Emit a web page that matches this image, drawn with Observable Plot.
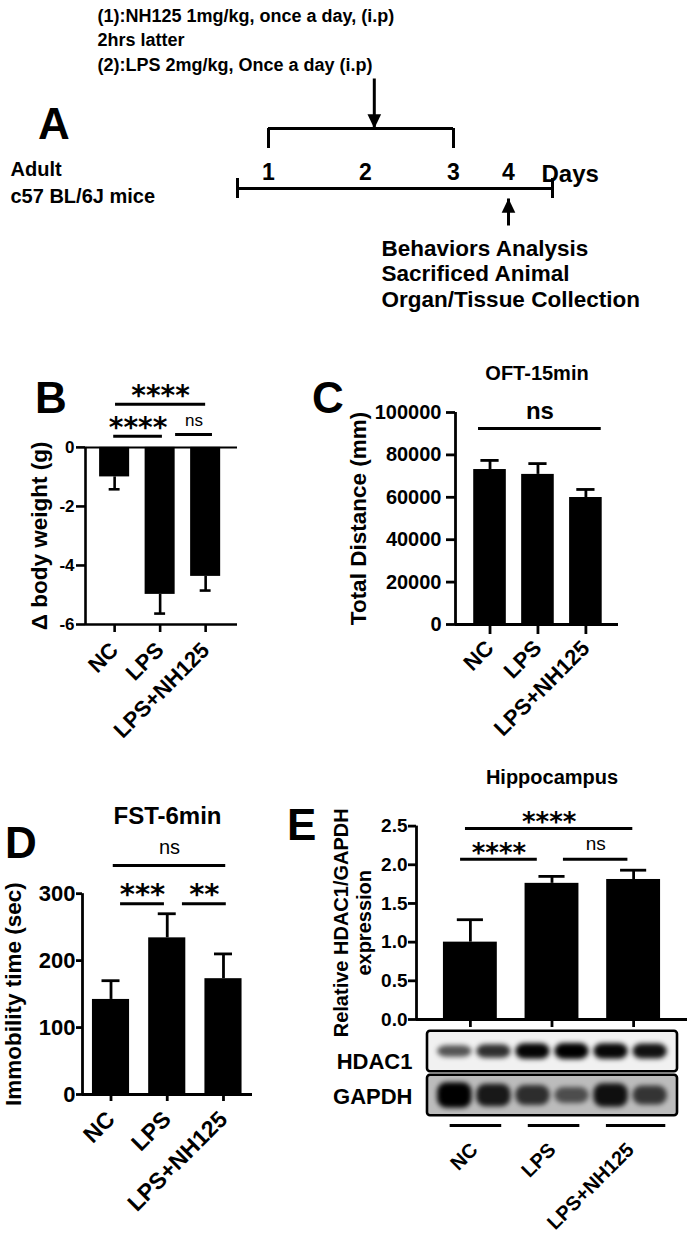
<!DOCTYPE html>
<html>
<head>
<meta charset="utf-8">
<script src="https://cdn.jsdelivr.net/npm/d3@7"></script>
<script src="https://cdn.jsdelivr.net/npm/@observablehq/plot@0.6"></script>
<style>
  body { margin: 0; background: #fff; }
  #fig { position: relative; width: 688px; height: 1241px; overflow: hidden; background: #fff;
         font-family: "Liberation Sans", Arial, Helvetica, sans-serif; font-weight: bold; color: #000; }
  .panel { position: absolute; }
  .letter { position: absolute; font-size: 44px; line-height: 1; font-weight: bold; }
</style>
</head>
<body>
<div id="fig"></div>
<script>
// ---------------- data ----------------
const groups = ["NC", "LPS", "LPS+NH125"];

const weightChange = [-1.0, -4.98, -4.37];
const weightSem = [0.42, 0.65, 0.48];
const weightTicks = [0, -2, -4, -6];

const distance = [73100, 70800, 59900];
const distanceSem = [4300, 5100, 3800];
const distanceTicks = [0, 20000, 40000, 60000, 80000, 100000];

const immobility = [142, 234, 173];
const immobilitySem = [28, 36, 37];
const immobilityTicks = [0, 100, 200, 300];

const hdac1Ratio = [1.0, 1.76, 1.81];
const hdac1Sem = [0.29, 0.09, 0.12];
const hdac1Ticks = [0, 0.5, 1.0, 1.5, 2.0, 2.5];

// significance brackets (group index span, level in data units)
const bBrackets = [
  {from: 0.02, to: 2.0, level: 1.46, label: "****"},
  {from: -0.02, to: 1.05, level: 0.38, label: "****"},
  {from: 1.34, to: 2.15, level: 0.44, label: "ns"}
];
const cBrackets = [
  {from: -0.24, to: 2.32, level: 92500, label: "ns"}
];
const dBrackets = [
  {from: 0.04, to: 2.04, level: 342, label: "ns"},
  {from: 0.17, to: 0.95, level: 285, label: "***"},
  {from: 1.27, to: 2.05, level: 285, label: "**"}
];
const eBrackets = [
  {from: -0.06, to: 1.99, level: 2.47, label: "****"},
  {from: -0.12, to: 0.82, level: 2.07, label: "****"},
  {from: 1.14, to: 1.93, level: 2.07, label: "ns"}
];

// western blot: 6 lanes (2 per group), relative band signal
const blotLaneGroups = [0, 0, 1, 1, 2, 2];
const hdac1Band = [0.5, 0.72, 0.98, 1.0, 0.96, 0.9];
const gapdhBand = [1.0, 0.82, 0.66, 0.42, 0.88, 0.6];
const proteins = ["HDAC1", "GAPDH"];

// schematic (panel A)
const notes = ["(1):NH125 1mg/kg, once a day, (i.p)", "2hrs latter", "(2):LPS 2mg/kg, Once a day (i.p)"];
const cohort = ["Adult", "c57 BL/6J mice"];
const readouts = ["Behaviors Analysis", "Sacrificed Animal", "Organ/Tissue Collection"];
const days = [1, 2, 3, 4];
const treatmentDays = [1, 3];
const timelineSpan = [0, 5];
const doseArrowDay = 2.1;
const readoutDay = 4;

// ---------------- helpers ----------------
const FONT = '"Liberation Sans", Arial, Helvetica, sans-serif';
const STAR_FONT = '"DejaVu Sans", "Liberation Sans", sans-serif';
const SVG_STYLE = `background:none;overflow:visible;font-family:${FONT};font-weight:bold;color:#000;`;
const fig = document.getElementById("fig");

function place(node, left, top) {
  const d = document.createElement("div");
  d.className = "panel";
  d.style.left = left + "px";
  d.style.top = top + "px";
  d.appendChild(node);
  fig.appendChild(d);
  return d;
}
function letter(t, left, top) {
  const d = document.createElement("div");
  d.className = "letter";
  d.textContent = t;
  d.style.left = left + "px";
  d.style.top = top + "px";
  fig.appendChild(d);
}

function barPanel(c) {
  const rows = groups.map((g, i) => ({i, g, v: c.values[i], e: c.errors[i]}));
  const tip = d => d.v + (d.v < 0 ? -1 : 1) * d.e;
  const [xa] = c.xDomain;
  const [lo, hi] = c.axisExtent;
  const stars = c.brackets.filter(d => d.label.includes("*"));
  const ns = c.brackets.filter(d => !d.label.includes("*"));
  const mid = d => (d.from + d.to) / 2;
  const marks = [
    Plot.rect(rows, {x1: d => d.i - c.barHalf, x2: d => d.i + c.barHalf, y1: 0, y2: "v", fill: "black"}),
    Plot.ruleX(rows, {x: "i", y1: "v", y2: tip, strokeWidth: c.lw}),
    Plot.ruleY(rows, {y: tip, x1: d => d.i - c.capHalf, x2: d => d.i + c.capHalf, strokeWidth: c.lw}),
    Plot.ruleX([xa], {y1: lo, y2: hi, strokeWidth: c.lw}),
    Plot.ruleY([lo], {strokeWidth: c.lw}),
    Plot.axisY({ticks: c.ticks, tickFormat: c.tickFormat, tickSize: c.yTickSize, tickPadding: c.yTickPad,
      fontSize: c.yFont, fontWeight: "bold", strokeWidth: c.lw, label: null}),
    Plot.axisX({ticks: [0, 1, 2], tickFormat: c.xLabels ? (i => groups[i]) : (() => ""),
      tickSize: c.xTickSize, tickPadding: c.xTickPad, tickRotate: -45,
      fontSize: c.xFont, fontWeight: "bold", strokeWidth: c.lw, label: null}),
    Plot.ruleY(c.brackets, {y: "level", x1: "from", x2: "to", strokeWidth: 3}),
    Plot.text(stars, {x: mid, y: "level", text: "label", fontFamily: STAR_FONT, fontSize: c.starFont,
      fontWeight: "bold", dy: c.starDy}),
    Plot.text(ns, {x: mid, y: "level", text: "label", fontSize: c.nsFont, fontWeight: c.nsWeight, dy: c.nsDy}),
    Plot.text([c.ylabel], {x: xa, y: (lo + hi) / 2, rotate: -90, dx: c.ylabelDx, lineAnchor: "middle",
      fontSize: c.ylabelFont, lineHeight: c.ylabelLH || 1, fontWeight: "bold"})
  ];
  if (c.zeroLine) marks.push(Plot.ruleY([0], {strokeWidth: 2}));
  if (c.title) marks.push(Plot.text([c.title], {frameAnchor: "top", lineAnchor: "middle", dy: c.titleDy,
    fontSize: c.titleFont, fontWeight: "bold"}));
  const [mt, mr, mb, ml] = c.margins;
  return Plot.plot({
    width: c.width, height: c.height,
    marginTop: mt, marginRight: mr, marginBottom: mb, marginLeft: ml,
    x: {type: "linear", domain: c.xDomain},
    y: {type: "linear", domain: c.yDomain},
    style: SVG_STYLE,
    marks
  });
}

// ---------------- panel A (schematic) ----------------
const aLevels = ["dosing", "bracket", "bracketFoot", "dayNumber", "tickTop", "timeline", "tickBottom", "readout"];
const lv = n => aLevels.indexOf(n);
const headDown = {draw(ctx, size) { const w = Math.sqrt(size) * 0.55, h = w * 2.1;
  ctx.moveTo(-w, -h); ctx.lineTo(w, -h); ctx.lineTo(0, 0); ctx.closePath(); }};
const headUp = {draw(ctx, size) { const w = Math.sqrt(size) * 0.55, h = w * 2.1;
  ctx.moveTo(-w, h); ctx.lineTo(w, h); ctx.lineTo(0, 0); ctx.closePath(); }};

const panelA = Plot.plot({
  width: 688, height: 320, margin: 0,
  x: {type: "linear", domain: [0, 1, 2, 3, 4, 5], range: [237, 268, 365, 453, 508, 552], axis: null},
  y: {type: "linear", domain: aLevels.map((_, i) => i), range: [78, 128, 148, 172, 178, 188, 198, 225], axis: null},
  style: SVG_STYLE,
  marks: [
    Plot.text([notes.join("\n")], {frameAnchor: "top-left", textAnchor: "start", lineAnchor: "top",
      dx: 97, dy: 4, fontSize: 18, lineHeight: 1.36, fontWeight: "bold"}),
    Plot.link([doseArrowDay], {x1: d => d, x2: d => d, y1: lv("dosing"), y2: lv("bracket"), strokeWidth: 3, insetEnd: 6}),
    Plot.dot([doseArrowDay], {x: d => d, y: lv("bracket"), symbol: headDown, r: 7, fill: "black", stroke: null}),
    Plot.ruleY([lv("bracket")], {x1: treatmentDays[0], x2: treatmentDays[1], strokeWidth: 3}),
    Plot.ruleX(treatmentDays, {y1: lv("bracket"), y2: lv("bracketFoot"), strokeWidth: 3}),
    Plot.text(days, {x: d => d, y: lv("dayNumber"), text: d => String(d), fontSize: 23, fontWeight: "bold"}),
    Plot.text(["Days"], {x: timelineSpan[1], y: lv("dayNumber"), textAnchor: "start", dx: -11, dy: 2, fontSize: 24, fontWeight: "bold"}),
    Plot.ruleY([lv("timeline")], {x1: timelineSpan[0], x2: timelineSpan[1], strokeWidth: 3}),
    Plot.ruleX(timelineSpan, {y1: lv("tickTop"), y2: lv("tickBottom"), strokeWidth: 3}),
    Plot.link([readoutDay], {x1: d => d, x2: d => d, y1: lv("readout"), y2: lv("tickBottom"), strokeWidth: 3}),
    Plot.dot([readoutDay], {x: d => d, y: lv("tickBottom"), symbol: headUp, r: 7, fill: "black", stroke: null}),
    Plot.text([cohort.join("\n")], {frameAnchor: "left", y: lv("timeline"), textAnchor: "start", lineAnchor: "middle",
      dx: 10, dy: -8, fontSize: 20, lineHeight: 1.35, fontWeight: "bold"}),
    Plot.text([readouts.join("\n")], {x: readoutDay, y: lv("readout"), textAnchor: "start", lineAnchor: "top",
      dx: -127, dy: 12, fontSize: 22.5, lineHeight: 1.14, fontWeight: "bold"})
  ]
});
place(panelA, 0, 0);

// ---------------- panel B ----------------
place(barPanel({
  values: weightChange, errors: weightSem, ticks: weightTicks, tickFormat: d => String(d),
  xDomain: [-0.64, 2.70], yDomain: [-6, 2.3], axisExtent: [-6, 0], zeroLine: true,
  barHalf: 0.33, capHalf: 0.12, lw: 2.6, brackets: bBrackets,
  starFont: 28, starDy: -8, nsFont: 17, nsWeight: "normal", nsDy: -14,
  ylabel: "Δ body weight (g)", ylabelDx: -46, ylabelFont: 22.5,
  yFont: 17, yTickSize: 9, yTickPad: 2, xFont: 22, xTickSize: 8, xTickPad: 14, xLabels: true,
  width: 260, height: 420, margins: [39, 23, 136, 85]
}), 0, 340);

// ---------------- panel C ----------------
place(barPanel({
  values: distance, errors: distanceSem, ticks: distanceTicks, tickFormat: d => String(d),
  xDomain: [-0.72, 2.68], yDomain: [0, 100000], axisExtent: [0, 100000],
  barHalf: 0.34, capHalf: 0.19, lw: 2.8, brackets: cBrackets,
  starFont: 28, starDy: -8, nsFont: 24, nsWeight: "bold", nsDy: -17,
  ylabel: "Total Distance (mm)", ylabelDx: -97, ylabelFont: 22.5,
  yFont: 20, yTickSize: 9, yTickPad: 5, xFont: 22, xTickSize: 10, xTickPad: 10, xLabels: true,
  title: "OFT-15min", titleDy: -39, titleFont: 20,
  width: 300, height: 420, margins: [72, 12, 136, 125]
}), 330, 340);

// ---------------- panel D ----------------
place(barPanel({
  values: immobility, errors: immobilitySem, ticks: immobilityTicks, tickFormat: d => String(d),
  xDomain: [-0.507, 2.516], yDomain: [0, 360], axisExtent: [0, 300],
  barHalf: 0.33, capHalf: 0.16, lw: 2.8, brackets: dBrackets,
  starFont: 29, starDy: -9, nsFont: 20, nsWeight: "normal", nsDy: -18,
  ylabel: "Immobility time (sec)", ylabelDx: -69, ylabelFont: 22.5,
  yFont: 22, yTickSize: 6, yTickPad: 1, xFont: 23, xTickSize: 7, xTickPad: 14, xLabels: true,
  title: "FST-6min", titleDy: -37, titleFont: 24,
  width: 270, height: 461, margins: [73, 18, 147, 82]
}), 0, 780);

// ---------------- panel E ----------------
place(barPanel({
  values: hdac1Ratio, errors: hdac1Sem, ticks: hdac1Ticks, tickFormat: d3.format(".1f"),
  xDomain: [-0.66, 2.66], yDomain: [0, 2.65], axisExtent: [0, 2.5],
  barHalf: 0.33, capHalf: 0.16, lw: 2.8, brackets: eBrackets,
  starFont: 26, starDy: -6, nsFont: 19, nsWeight: "normal", nsDy: -15,
  ylabel: "Relative HDAC1/GAPDH\nexpression", ylabelDx: -64.5, ylabelFont: 20, ylabelLH: 1.15,
  yFont: 19, yTickSize: 8, yTickPad: 1, xFont: 21, xTickSize: 8, xTickPad: 15, xLabels: false,
  title: "Hippocampus", titleDy: -37, titleFont: 20,
  width: 388, height: 290, margins: [74, 1, 11, 116]
}), 300, 740);

// ---------------- panel E blot ----------------
const laneDomain = [-0.7, 5.7];
const bandRows = [
  ...hdac1Band.map((s, k) => ({row: 0, k, s, t: 0.16 + 0.2 * s})),
  ...gapdhBand.map((s, k) => ({row: 1, k, s, t: 0.2 + 0.38 * s}))
];
const blot = Plot.plot({
  width: 358, height: 221, marginTop: 9, marginRight: 11, marginBottom: 124, marginLeft: 97,
  x: {type: "linear", domain: laneDomain},
  y: {type: "linear", domain: [-0.5, 1.5], reverse: true},
  color: {type: "identity"},
  style: SVG_STYLE,
  marks: [
    Plot.rect([0], {x1: laneDomain[0], x2: laneDomain[1], y1: d => d - 0.46, y2: d => d + 0.46, fill: "#f1f1f1"}),
    Plot.rect([1], {x1: laneDomain[0], x2: laneDomain[1], y1: d => d - 0.46, y2: d => d + 0.46, fill: "#bcbcbc"}),
    Plot.rect(bandRows, {x1: d => d.k - 0.44, x2: d => d.k + 0.44, y1: d => d.row - d.t / 2, y2: d => d.row + d.t / 2,
      fill: d => `rgba(0,0,0,${(0.3 + 0.7 * d.s).toFixed(3)})`, rx: 9, ariaLabel: "blot band"}),
    Plot.rect([0, 1], {x1: laneDomain[0], x2: laneDomain[1], y1: d => d - 0.46, y2: d => d + 0.46,
      fill: "none", stroke: "black", strokeWidth: 2.6, rx: 3}),
    Plot.text([proteins[0]], {frameAnchor: "left", y: 0, textAnchor: "end", dx: -15, dy: 10, fontSize: 22, fontWeight: "bold"}),
    Plot.text([proteins[1]], {frameAnchor: "left", y: 1, textAnchor: "end", dx: -15, dy: 1, fontSize: 22, fontWeight: "bold"}),
    Plot.ruleY([0, 1, 2], {y: 1.5, dy: 8, x1: g => 2 * g - 0.12, x2: g => 2 * g + 1.2 + (g === 2 ? 0.2 : 0), strokeWidth: 3}),
    Plot.axisX({ticks: [0.5, 2.5, 4.5], tickFormat: d => groups[blotLaneGroups[Math.round(d - 0.5)]],
      tickSize: 0, tickPadding: 29, tickRotate: -45, fontSize: 20, fontWeight: "bold", label: null}),
    Plot.axisY({ticks: [], label: null})
  ]
});
const bsel = d3.select(blot);
bsel.insert("defs", ":first-child").append("filter").attr("id", "bandBlur")
  .attr("filterUnits", "userSpaceOnUse").attr("x", 0).attr("y", 0).attr("width", 358).attr("height", 221)
  .append("feGaussianBlur").attr("stdDeviation", 2.6);
bsel.selectAll("rect").filter(function () {
  const f = this.getAttribute("fill") || "";
  return f.startsWith("rgba");
}).attr("filter", "url(#bandBlur)");
place(blot, 330, 1020);

// ---------------- panel letters ----------------
letter("A", 38, 102);
letter("B", 35, 376);
letter("C", 312, 376);
letter("D", 5, 821);
letter("E", 287, 803);
</script>
</body>
</html>
